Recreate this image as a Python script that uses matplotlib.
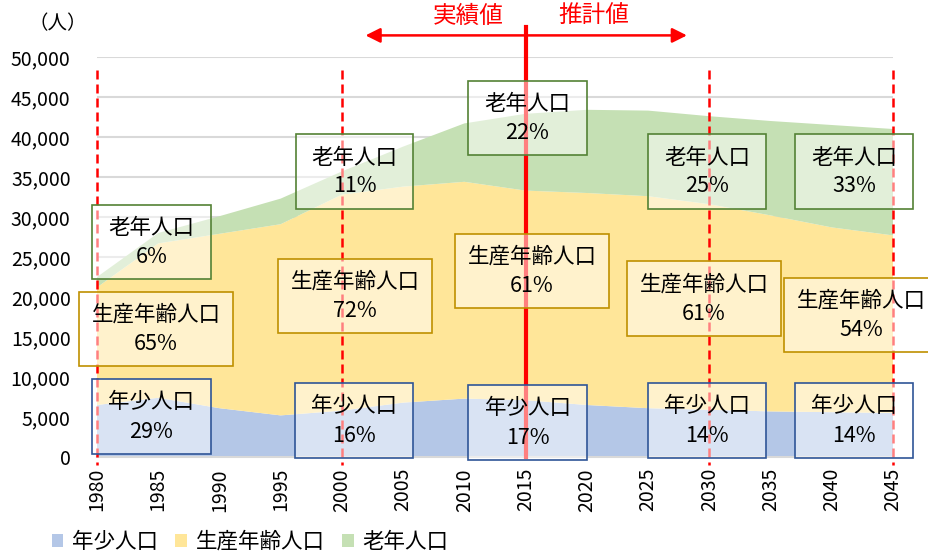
import matplotlib
matplotlib.use("Agg")
from matplotlib import pyplot as plt
from matplotlib.patches import Rectangle, Patch
from matplotlib.ticker import FuncFormatter

plt.rcParams['font.family'] = ['Noto Sans CJK JP', 'DejaVu Sans']

years = [1980, 1985, 1990, 1995, 2000, 2005, 2010, 2015, 2020, 2025, 2030, 2035, 2040, 2045]
young = [6500, 7400, 6100, 5200, 5800, 6800, 7300, 7100, 6500, 6100, 5900, 5700, 5600, 5500]
working = [14700, 19300, 21800, 23900, 27000, 27000, 27100, 26200, 26500, 26500, 25700, 24500, 23100, 22200]
elderly = [1300, 1300, 2200, 3200, 2900, 5000, 7300, 9600, 10400, 10700, 11000, 11800, 12800, 13300]

series_names = ["年少人口", "生産年齢人口", "老年人口"]
area_colors = ["#B4C7E7", "#FFE699", "#C5E0B4"]
box_edges = ["#2F5597", "#BF9000", "#548235"]

# share labels shown in the boxes (1980, 2000, 2015, 2030, 2045)
young_pct = [29, 16, 17, 14, 14]
working_pct = [65, 72, 61, 61, 54]
elderly_pct = [6, 11, 22, 25, 33]

marked_years = [1980, 2000, 2030, 2045]
split_year = 2015

W, H = 929, 555
fig = plt.figure(figsize=(W / 100, H / 100), dpi=100)
ax = fig.add_axes([97 / W, 1 - 457 / H, (893 - 97) / W, (457 - 57) / H])

ax.stackplot(years, young, working, elderly, colors=area_colors, labels=series_names, zorder=2)

ax.set_xlim(1980, 2045)
ax.set_ylim(0, 50000)
ax.set_xticks(years)
ax.set_xticklabels([str(y) for y in years], rotation=90, fontsize=14)
ax.set_yticks(range(0, 50001, 5000))
ax.yaxis.set_major_formatter(FuncFormatter(lambda v, p: f"{v:,.0f}"))
ax.tick_params(axis='y', length=0, pad=19, labelsize=14)
ax.tick_params(axis='x', length=0, pad=8)
ax.grid(axis='y', color='#D9D9D9', linewidth=1.5, zorder=0)
ax.set_axisbelow(True)
for s in ["top", "right", "left"]:
    ax.spines[s].set_visible(False)
ax.spines["bottom"].set_color('#D9D9D9')
ax.spines["bottom"].set_linewidth(1.5)

# red markers for the years
for y in marked_years:
    ax.plot([y, y], [48400, -1000], color='red', linewidth=1.8, dashes=(3.6, 2),
            clip_on=False, zorder=3)
ax.plot([split_year, split_year], [53700, 0], color='red', linewidth=3, clip_on=False, zorder=3)
ax.annotate("", xy=(2001.7, 52700), xytext=(2028.4, 52700),
            arrowprops=dict(arrowstyle='<|-|>', color='red', lw=1.8, mutation_scale=22),
            annotation_clip=False, zorder=3)
ax.text(2010.3, 55100, "実績値", color='red', fontsize=17, ha='center', va='center', clip_on=False)
ax.text(2020.6, 55100, "推計値", color='red', fontsize=17, ha='center', va='center', clip_on=False)

fig.text(58 / W, 1 - 24 / H, "（人）", fontsize=14, ha='center', va='center')

young_boxes = [(92, 379, 211, 454), (295, 383, 413, 458), (468, 385, 587, 460),
               (648, 383, 766, 458), (795, 383, 913, 458)]
working_boxes = [(79, 292, 233, 366), (278, 259, 432, 333), (455, 234, 609, 308),
                 (627, 261, 781, 336), (784, 278, 938, 352)]
elderly_boxes = [(92, 205, 211, 279), (296, 134, 413, 209), (468, 81, 587, 155),
                 (648, 134, 766, 209), (795, 134, 913, 209)]

groups = [(young_boxes, young_pct), (working_boxes, working_pct), (elderly_boxes, elderly_pct)]
for i, (boxes, pcts) in enumerate(groups):
    for (l, t, r, b), p in zip(boxes, pcts):
        rect = Rectangle((l / W, 1 - b / H), (r - l) / W, (b - t) / H, transform=fig.transFigure,
                         facecolor=(1, 1, 1, 0.5), edgecolor=box_edges[i], linewidth=1.2, zorder=4)
        fig.add_artist(rect)
        cx = (l + r) / 2
        cy = (t + b) / 2
        fig.text(cx / W, 1 - (cy - 14) / H, series_names[i], fontsize=15.5, ha='center', va='center', zorder=5)
        fig.text(cx / W, 1 - (cy + 15) / H, f"{p}%", fontsize=15.5, ha='center', va='center', zorder=5)

handles = [Patch(facecolor=c, edgecolor='none') for c in area_colors]
fig.legend(handles, series_names, loc='center', bbox_to_anchor=(250 / W, 1 - 542 / H), ncol=3,
           frameon=False, fontsize=15.5, handlelength=0.55, handleheight=0.55,
           handletextpad=0.4, columnspacing=0.8, borderaxespad=0)

plt.savefig("out.png", dpi=100)
plt.close()
